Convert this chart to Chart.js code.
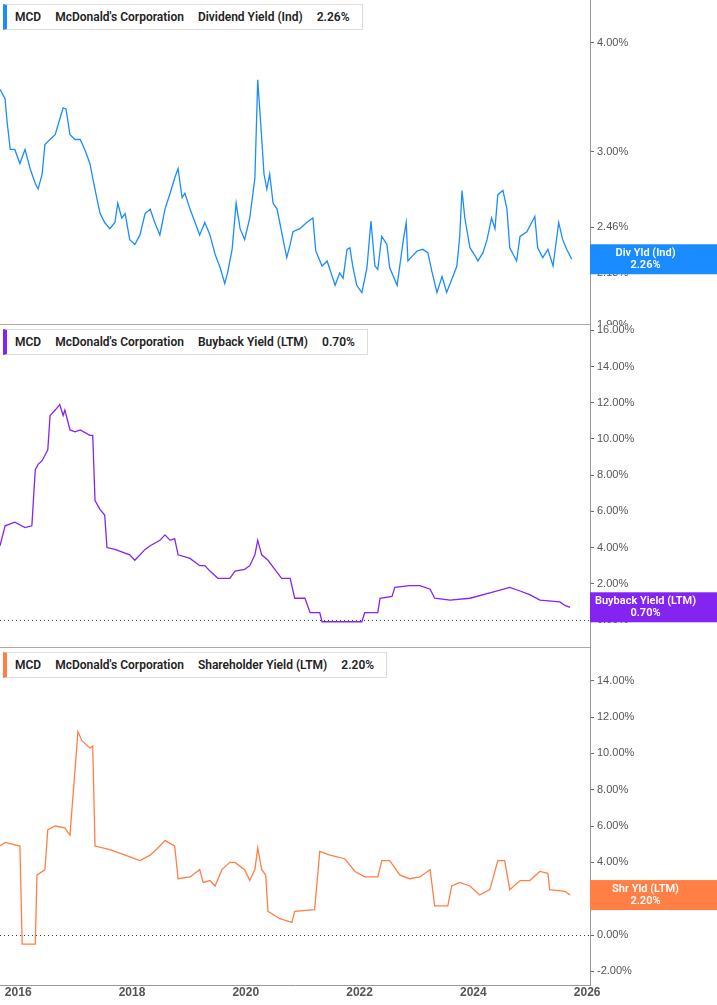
<!DOCTYPE html>
<html>
<head>
<meta charset="utf-8">
<script src="https://cdn.jsdelivr.net/npm/chart.js@4.4.1/dist/chart.umd.min.js"></script>
<style>
  body { margin: 0; background: #fff; font-family: Roboto, "Noto Sans", sans-serif; }
  #wrap { position: relative; width: 717px; height: 1005px; overflow: hidden; }
  canvas { position: absolute; left: 0; }
  .legend { position: absolute; left: 3px; height: 24px; background: #fff; border: 1px solid #ddd;
            border-left: 4px solid; font-size: 12px; font-weight: 600; color: #222; line-height: 24px;
            padding: 0 12px 0 8px; white-space: nowrap; }
  .legend span { margin-right: 14px; }
  .legend span:last-child { margin-right: 0; }
</style>
</head>
<body>
<div id="wrap">
  <canvas id="c1"></canvas>
  <canvas id="c2"></canvas>
  <canvas id="c3"></canvas>
</div>
<script>
// [decimal year, yield %]
const divYield = [
  [2015.68,3.54],[2015.73,3.49],[2015.77,3.45],[2015.80,3.27],[2015.86,3.02],[2015.94,3.02],[2016.03,2.91],
  [2016.12,3.02],[2016.21,2.87],[2016.30,2.76],[2016.35,2.72],[2016.42,2.83],[2016.47,3.06],[2016.56,3.10],
  [2016.65,3.14],[2016.73,3.27],[2016.79,3.37],[2016.84,3.36],[2016.91,3.14],[2017.00,3.10],[2017.09,3.10],
  [2017.17,3.02],[2017.26,2.91],[2017.31,2.80],[2017.38,2.66],[2017.44,2.55],[2017.52,2.49],[2017.61,2.45],
  [2017.70,2.49],[2017.75,2.62],[2017.82,2.52],[2017.88,2.55],[2017.96,2.38],[2018.05,2.35],[2018.14,2.41],
  [2018.23,2.55],[2018.32,2.58],[2018.40,2.49],[2018.49,2.41],[2018.58,2.58],[2018.67,2.69],[2018.75,2.80],
  [2018.81,2.87],[2018.88,2.66],[2018.93,2.69],[2019.02,2.58],[2019.19,2.41],[2019.28,2.49],[2019.37,2.41],
  [2019.46,2.29],[2019.55,2.21],[2019.63,2.12],[2019.68,2.18],[2019.76,2.32],[2019.83,2.62],[2019.90,2.45],
  [2019.98,2.38],[2020.07,2.52],[2020.16,2.80],[2020.21,3.63],[2020.27,3.18],[2020.32,2.83],[2020.37,2.72],
  [2020.42,2.83],[2020.48,2.62],[2020.55,2.58],[2020.64,2.41],[2020.72,2.27],[2020.78,2.35],[2020.83,2.43],
  [2020.95,2.45],[2021.07,2.49],[2021.18,2.52],[2021.23,2.31],[2021.34,2.22],[2021.43,2.25],[2021.57,2.11],
  [2021.65,2.18],[2021.71,2.15],[2021.78,2.32],[2021.83,2.33],[2021.88,2.22],[2021.95,2.11],[2022.04,2.07],
  [2022.13,2.21],[2022.20,2.50],[2022.27,2.22],[2022.32,2.20],[2022.39,2.40],[2022.48,2.35],[2022.53,2.21],
  [2022.66,2.11],[2022.77,2.38],[2022.82,2.49],[2022.85,2.25],[2023.01,2.31],[2023.11,2.32],[2023.20,2.30],
  [2023.27,2.19],[2023.36,2.07],[2023.45,2.16],[2023.53,2.07],[2023.64,2.16],[2023.71,2.22],[2023.76,2.40],
  [2023.80,2.71],[2023.85,2.52],[2023.94,2.33],[2024.03,2.28],[2024.08,2.25],[2024.17,2.30],[2024.24,2.38],
  [2024.32,2.52],[2024.38,2.45],[2024.43,2.68],[2024.52,2.71],[2024.59,2.58],[2024.64,2.33],[2024.76,2.25],
  [2024.82,2.40],[2024.94,2.43],[2025.08,2.53],[2025.13,2.33],[2025.22,2.27],[2025.31,2.32],[2025.40,2.22],
  [2025.50,2.49],[2025.57,2.38],[2025.64,2.32],[2025.73,2.26]
];
const buybackYield = [
  [2015.68,4.1],[2015.77,5.2],[2015.94,5.4],[2016.12,5.1],[2016.24,5.2],[2016.30,8.3],[2016.35,8.6],
  [2016.42,8.8],[2016.47,9.1],[2016.52,9.4],[2016.56,11.3],[2016.65,11.6],[2016.73,11.9],[2016.79,11.3],
  [2016.82,11.6],[2016.91,10.5],[2017.00,10.4],[2017.09,10.5],[2017.26,10.2],[2017.31,10.2],[2017.35,6.6],
  [2017.44,6.1],[2017.52,5.8],[2017.56,4.0],[2017.70,3.9],[2017.96,3.6],[2018.05,3.3],[2018.23,3.9],
  [2018.32,4.1],[2018.49,4.4],[2018.58,4.7],[2018.67,4.4],[2018.75,4.5],[2018.81,3.6],[2019.02,3.4],
  [2019.19,3.0],[2019.28,3.0],[2019.37,2.7],[2019.51,2.3],[2019.72,2.3],[2019.81,2.7],[2019.98,2.8],
  [2020.07,3.0],[2020.16,3.6],[2020.21,4.4],[2020.28,3.6],[2020.39,3.3],[2020.51,2.8],[2020.63,2.3],
  [2020.78,2.3],[2020.86,1.2],[2021.04,1.2],[2021.13,0.4],[2021.30,0.4],[2021.34,-0.1],[2022.04,-0.1],
  [2022.09,0.4],[2022.32,0.4],[2022.36,1.2],[2022.57,1.3],[2022.62,1.8],[2022.88,1.9],[2023.06,1.9],
  [2023.24,1.7],[2023.32,1.2],[2023.59,1.1],[2023.94,1.2],[2024.29,1.5],[2024.64,1.8],[2024.82,1.6],
  [2024.99,1.4],[2025.17,1.1],[2025.52,1.0],[2025.61,0.8],[2025.70,0.7]
];
const shrYield = [
  [2015.68,4.9],[2015.77,5.1],[2016.03,4.9],[2016.07,-0.5],[2016.30,-0.5],[2016.33,3.3],[2016.47,3.6],
  [2016.52,5.8],[2016.65,6.0],[2016.82,5.9],[2016.91,5.5],[2017.05,11.2],[2017.12,10.7],[2017.26,10.3],
  [2017.31,10.4],[2017.35,4.9],[2017.61,4.7],[2017.88,4.4],[2018.14,4.1],[2018.32,4.4],[2018.49,4.9],
  [2018.58,5.2],[2018.75,4.9],[2018.81,3.1],[2019.02,3.2],[2019.19,3.6],[2019.25,2.9],[2019.37,3.0],
  [2019.46,2.7],[2019.58,3.6],[2019.72,4.0],[2019.81,4.0],[2019.98,3.6],[2020.07,3.0],[2020.16,3.6],
  [2020.21,4.8],[2020.28,3.6],[2020.35,3.3],[2020.39,1.3],[2020.60,0.9],[2020.81,0.7],[2020.86,1.3],
  [2021.21,1.4],[2021.30,4.6],[2021.48,4.4],[2021.74,4.2],[2021.92,3.5],[2022.09,3.2],[2022.32,3.2],
  [2022.39,4.1],[2022.53,4.1],[2022.71,3.3],[2022.88,3.1],[2023.06,3.2],[2023.24,3.6],[2023.32,1.6],
  [2023.55,1.6],[2023.62,2.7],[2023.76,2.9],[2023.94,2.7],[2024.11,2.2],[2024.29,2.5],[2024.43,4.1],
  [2024.55,4.1],[2024.64,2.5],[2024.82,3.0],[2024.99,3.0],[2025.17,3.5],[2025.31,3.4],[2025.34,2.5],
  [2025.61,2.4],[2025.70,2.2]
];
const divTicks = [1.90, 2.18, 2.46, 3.00, 4.00];
const bbTicks = [0, 2, 4, 6, 8, 10, 12, 14, 16];
const shrTicks = [-2, 0, 2, 4, 6, 8, 10, 12, 14];
const yearTicks = [2016, 2018, 2020, 2022, 2024, 2026];

const X_MIN = 2015.68, X_MAX = 2026.05;
const AXIS_W = 127;

const panels = [
  { id: 'c1', top: 0, height: 325, data: divYield, color: '#1a8cff', type: 'logarithmic',
    min: 1.9, max: 4.48, ticks: divTicks, tag: ['Div Yld (Ind)', '2.26%'], zeroLine: false, showX: false,
    legend: ['MCD', "McDonald's Corporation", 'Dividend Yield (Ind)', '2.26%'] },
  { id: 'c2', top: 325, height: 323, data: buybackYield, color: '#8424f0', type: 'linear',
    min: -1.55, max: 16.3, ticks: bbTicks, tag: ['Buyback Yield (LTM)', '0.70%'], zeroLine: true, showX: false,
    legend: ['MCD', "McDonald's Corporation", 'Buyback Yield (LTM)', '0.70%'] },
  { id: 'c3', top: 648, height: 357, data: shrYield, color: '#ff7f45', type: 'linear',
    min: -2.75, max: 15.8, ticks: shrTicks, tag: ['Shr Yld (LTM)', '2.20%'], zeroLine: true, showX: true,
    legend: ['MCD', "McDonald's Corporation", 'Shareholder Yield (LTM)', '2.20%'] }
];

const extras = {
  id: 'extras',
  afterDatasetsDraw(chart, args, opts) {
    const { ctx, chartArea: a, scales } = chart;
    ctx.save();
    if (opts.zeroLine) {
      const y0 = scales.y.getPixelForValue(0);
      ctx.strokeStyle = '#333';
      ctx.lineWidth = 1;
      ctx.setLineDash([1, 3]);
      ctx.beginPath(); ctx.moveTo(a.left, y0 + 0.5); ctx.lineTo(a.right, y0 + 0.5); ctx.stroke();
      ctx.setLineDash([]);
    }
    if (!opts.showX) {
      ctx.strokeStyle = '#aaa';
      ctx.beginPath(); ctx.moveTo(0, a.bottom - 0.5); ctx.lineTo(a.right, a.bottom - 0.5); ctx.stroke();
    }
    const d = chart.data.datasets[0].data;
    const yc = scales.y.getPixelForValue(d[d.length - 1].y);
    ctx.fillStyle = opts.color;
    ctx.fillRect(a.right, yc - 15, AXIS_W, 30);
    ctx.fillStyle = '#fff';
    ctx.font = '600 11px Roboto, sans-serif';
    ctx.textAlign = 'center';
    ctx.textBaseline = 'middle';
    const cx = a.right + AXIS_W / 2 - 8;
    ctx.fillText(opts.tag[0], cx, yc - 6);
    ctx.fillText(opts.tag[1], cx, yc + 6);
    ctx.restore();
  }
};

panels.forEach(p => {
  const cv = document.getElementById(p.id);
  cv.style.top = p.top + 'px';
  cv.width = 717; cv.height = p.height;
  cv.style.width = '717px'; cv.style.height = p.height + 'px';

  new Chart(cv, {
    type: 'line',
    data: {
      datasets: [{
        data: p.data.map(([x, y]) => ({ x, y })),
        borderColor: p.color,
        borderWidth: 1.3,
        pointRadius: 0,
        tension: 0
      }]
    },
    options: {
      responsive: false,
      animation: false,
      devicePixelRatio: 1,
      layout: { padding: 0 },
      plugins: {
        legend: { display: false },
        tooltip: { enabled: false },
        extras: { color: p.color, tag: p.tag, zeroLine: p.zeroLine, showX: p.showX }
      },
      scales: {
        x: {
          type: 'linear', min: X_MIN, max: X_MAX,
          display: p.showX,
          afterBuildTicks: s => { s.ticks = yearTicks.map(v => ({ value: v })); },
          afterFit: s => { s.height = p.showX ? 20 : 0; s.paddingLeft = 0; s.paddingRight = 0; },
          grid: { display: false, drawTicks: false },
          border: { display: true, color: '#999' },
          ticks: { color: '#555', font: { size: 12, weight: '600' }, padding: 0, maxRotation: 0,
                   callback: v => String(v) }
        },
        y: {
          type: p.type, position: 'right', min: p.min, max: p.max,
          afterBuildTicks: s => { s.ticks = p.ticks.map(v => ({ value: v })); },
          afterFit: s => { s.width = AXIS_W; s.paddingTop = 0; s.paddingBottom = 0; },
          grid: { drawOnChartArea: false, tickLength: 4, color: '#666' },
          border: { display: true, color: '#999' },
          ticks: { color: '#555', font: { size: 11 }, padding: 3,
                   callback: v => Number(v).toFixed(2) + '%' }
        }
      }
    },
    plugins: [extras]
  });

  const lg = document.createElement('div');
  lg.className = 'legend';
  lg.style.top = (p.top + 4) + 'px';
  lg.style.borderLeftColor = p.color;
  lg.innerHTML = p.legend.map(t => '<span>' + t + '</span>').join('');
  document.getElementById('wrap').appendChild(lg);
});
</script>
</body>
</html>
